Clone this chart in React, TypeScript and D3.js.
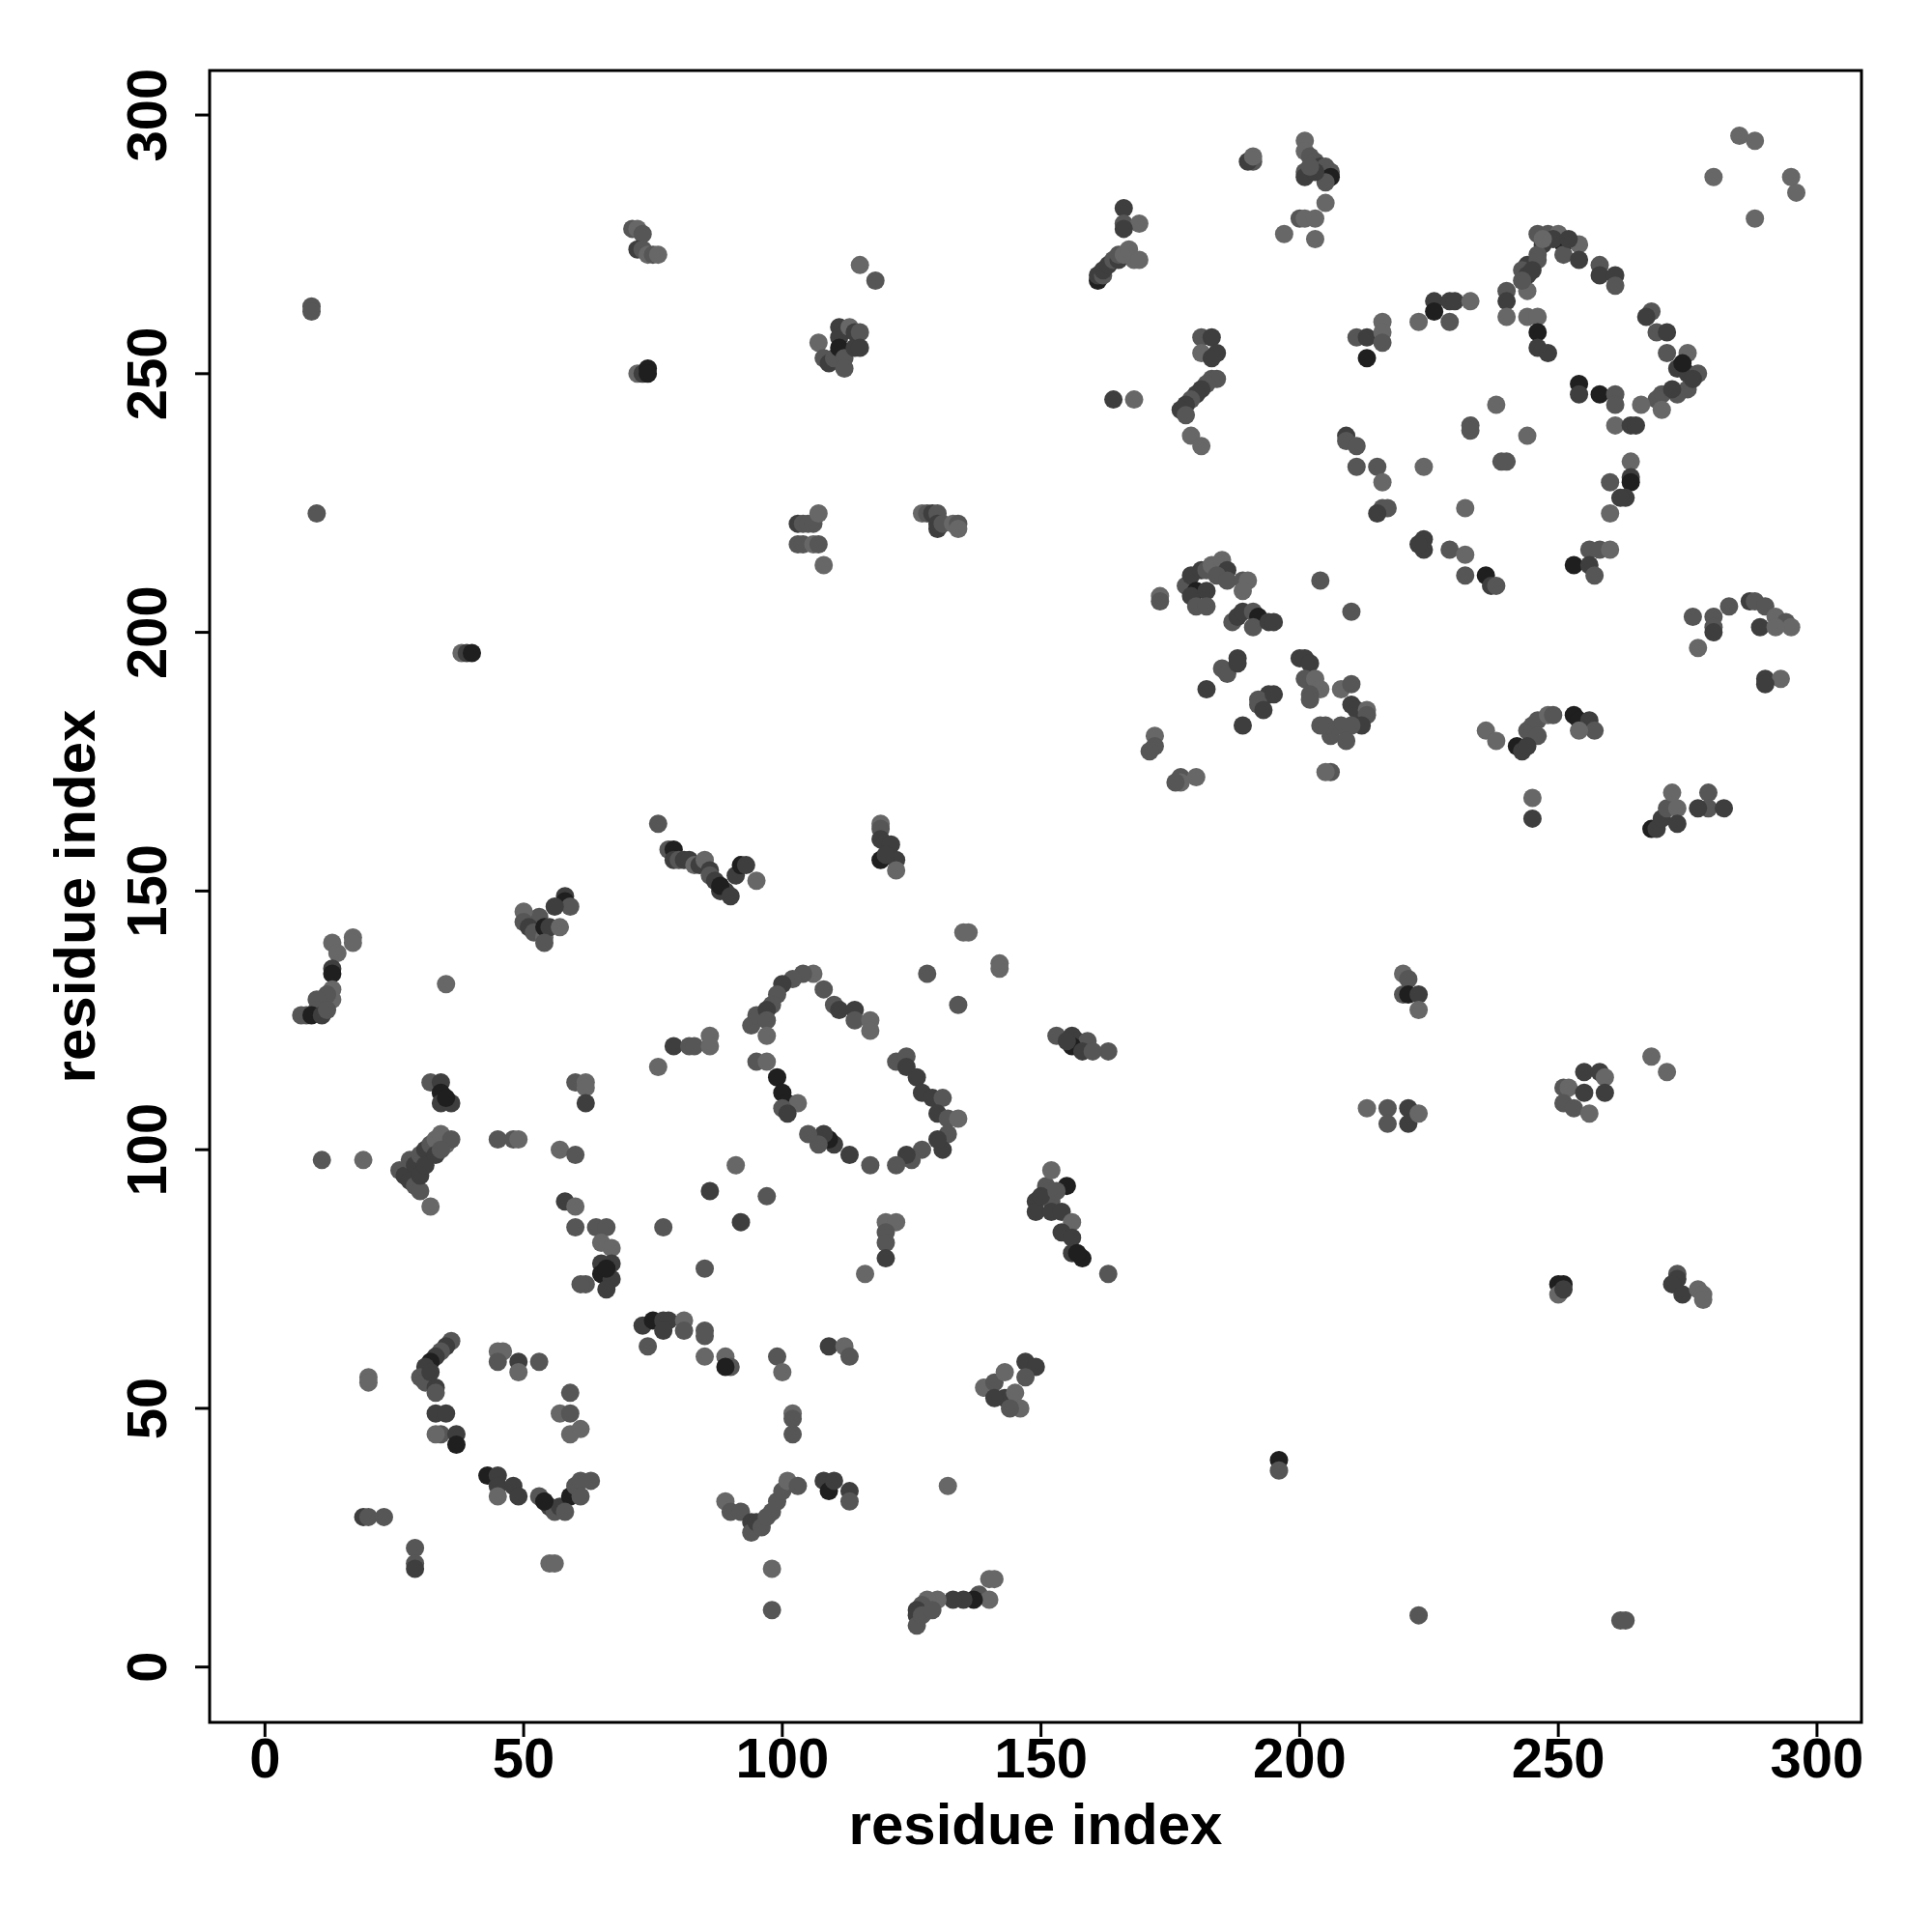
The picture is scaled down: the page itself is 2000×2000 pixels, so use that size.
import React from "react";
import * as d3 from "d3";

// [residue i, residue j, shade level 0..3]
const nTermDomain: number[][] = [
  [9,263,1],[9,262,1],[10,223,1],
  [71,278,1],[72,278,0],[73,277,1],[72,274,2],[73,274,1],[74,273,0],[75,273,1],[76,273,0],
  [72,250,0],[73,250,2],[74,251,3],[74,250,3],
  [38,196,0],[39,196,2],[40,196,3],
  [76,163,1],
  [78,158,1],[79,158,3],[79,156,2],[80,156,1],[81,156,2],[82,156,2],[83,155,0],[84,155,2],[85,156,0],[86,154,2],[86,153,1],[87,152,2],[88,150,2],[89,150,2],[88,151,3],[90,149,2],[91,153,2],[92,155,3],[93,155,2],[95,152,0],
  [58,149,2],[58,148,3],[59,147,1],[56,147,2],[53,145,1],[50,146,0],[50,144,1],[51,143,2],[52,142,1],[54,141,0],[54,143,3],[55,143,2],[57,143,0],[54,140,1],
  [13,140,0],[17,141,0],[17,140,0],[14,138,0],[13,135,2],[13,134,3],[13,131,0],[13,129,0],[12,130,1],[10,129,1],[10,127,1],[8,126,1],[7,126,1],[9,126,3],[11,126,2],[12,127,1],
  [35,132,0],
  [94,124,1],[95,126,1],[95,117,1],
  [79,120,2],[82,120,1],[83,120,1],[86,122,0],[86,120,0],[76,116,0],
  [32,113,1],[34,113,2],[34,111,3],[34,109,2],[36,109,2],[35,110,3],
  [60,113,1],[62,113,0],[62,112,0],[62,109,2],
  [45,102,1],[48,102,1],[49,102,0],
  [57,100,0],[60,99,1],[91,97,0],[11,98,1],[19,98,0],
  [26,96,1],[27,95,2],[28,98,1],[29,97,2],[30,99,1],[31,100,2],[32,101,1],[33,102,0],[34,103,0],[35,101,0],[36,102,1],[28,94,2],[29,93,1],[30,92,1],[32,89,0],[30,95,2],[31,97,2],[33,99,2],[34,100,1],
];

const lowerLeft: number[][] = [
  [58,90,2],[60,89,0],[60,85,1],[64,85,1],[66,85,1],[65,82,0],[67,81,0],[65,78,2],[67,78,2],[65,76,3],[67,75,2],[66,73,2],[62,74,1],[61,74,1],[66,77,3],
  [77,85,1],[86,92,2],[92,86,2],[85,77,1],[97,91,1],
  [73,66,2],[75,67,3],[77,67,2],[78,67,2],[77,65,2],[74,62,1],[81,67,0],[81,65,1],[85,65,1],[85,64,1],[85,60,0],[89,60,0],[90,58,1],[89,58,3],
  [20,56,0],[20,55,0],
  [36,63,1],[35,62,2],[34,61,1],[33,60,2],[32,59,3],[31,58,2],[30,56,1],[31,55,1],[33,54,2],[33,53,1],[33,49,2],[35,49,2],[34,45,1],[37,45,2],[37,43,3],[33,45,0],[32,57,2],
  [45,61,0],[46,61,0],[45,59,1],[49,59,2],[49,57,0],[53,59,1],
  [59,53,1],[57,49,0],[59,49,1],[59,45,0],[61,46,0],
  [43,37,3],[45,37,2],[45,35,2],[45,33,0],[48,35,2],[49,33,2],[53,33,1],[55,31,2],[56,30,1],[57,31,2],[59,33,3],[60,35,1],[61,36,1],[63,36,1],[61,33,1],[58,30,1],[54,32,3],
  [19,29,2],[20,29,1],[23,29,1],
  [29,23,1],[29,20,1],[29,19,2],
  [55,20,0],[56,20,0],
  [89,32,0],[90,30,1],[92,30,1],[94,28,2],[94,26,1],[95,28,2],[96,27,1],[97,29,1],[98,30,1],[99,32,1],[100,34,1],[101,36,0],[103,35,1],
];

const middleRegion: number[][] = [
  [108,36,2],[109,34,3],[113,34,2],[113,32,1],[110,36,2],
  [132,35,0],[98,19,0],[98,11,1],
  [140,17,0],[141,17,0],[138,14,1],[140,13,0],[137,13,3],[135,13,2],[133,13,2],[130,13,0],[128,13,0],[127,12,1],[126,11,2],[126,10,2],[126,8,1],[127,10,1],[129,11,1],
  [120,86,0],[122,86,0],[120,84,1],[120,82,1],[120,79,2],[116,76,0],
  [151,93,1],[155,93,3],[149,90,2],[149,88,2],[152,90,1],[152,88,2],[154,88,2],[156,86,0],[154,84,2],[156,83,2],[156,80,2],[158,79,3],[157,80,3],[163,76,1],[152,96,0],[150,91,2],[153,92,1],
  [99,60,1],[100,57,0],[109,62,2],[112,62,0],[113,60,1],
  [102,49,0],[102,48,1],[102,45,1],
  [139,54,0],[141,55,1],[143,57,0],[143,52,2],[145,53,0],[146,50,0],[144,50,1],[141,52,2],[147,59,2],[149,58,2],[147,56,1],
  [196,40,3],[196,38,1],
  [106,134,0],[104,134,1],[102,133,1],[100,132,2],[99,130,1],[98,128,1],[97,127,2],[97,125,1],[97,122,0],[97,117,0],[99,114,3],[100,111,3],[101,109,3],[103,109,0],[100,108,1],[101,107,2],
  [108,131,1],[110,128,1],[111,127,2],[114,127,2],[114,125,1],[117,125,0],[117,123,0],[122,117,1],[124,118,1],[124,116,2],[126,114,2],[127,111,2],[129,110,2],[131,110,1],[130,107,2],[132,106,1],[134,106,0],[132,103,1],[131,100,2],[130,102,2],[127,100,1],[125,98,1],[124,99,2],[122,97,1],[117,97,1],[113,99,2],[110,101,2],[109,102,3],[108,103,2],[107,101,1],[105,103,1],
  [153,122,1],[156,122,2],[157,121,2],[159,121,1],[163,119,1],[156,120,3],[158,119,2],[155,121,2],[160,119,1],
  [135,142,0],[136,142,0],[142,136,0],[142,135,0],[128,134,1],[134,128,1],
  [119,163,0],[119,162,1],[119,160,2],[121,159,2],[122,156,2],[122,154,0],[119,156,3],[120,157,2],
];

const upperMiddle: number[][] = [
  [103,221,2],[104,221,1],[105,221,1],[106,221,1],[107,223,0],[103,217,1],[104,217,1],[106,217,0],[107,217,1],[108,213,0],
  [127,223,0],[128,223,1],[129,223,2],[130,223,1],[130,221,2],[130,220,2],[131,221,1],[133,221,0],[134,221,1],[134,220,0],
  [115,271,0],[118,268,1],
  [107,256,0],[108,253,1],[109,252,2],[110,253,1],[111,259,2],[111,257,2],[111,255,3],[112,253,1],[112,251,1],[113,259,0],[114,258,2],[114,255,2],[115,258,1],[115,255,2],
  [166,282,2],[166,279,1],[169,279,0],[166,278,2],
  [161,268,3],[161,269,2],[162,269,1],[162,270,2],[163,271,2],[164,272,1],[165,272,2],[165,273,1],[166,273,0],[167,274,0],[168,272,0],[169,272,0],
  [164,245,2],[168,245,0],
  [181,257,1],[183,257,2],[181,254,0],[183,253,2],[184,254,2],[183,249,1],[184,249,1],[182,248,1],[181,247,2],[180,246,2],[179,245,1],[178,244,2],[177,243,2],[178,242,1],[179,238,0],[181,236,0],
  [191,291,1],[190,291,2],[191,292,0],
  [201,295,0],[201,293,0],[202,292,1],[203,291,1],[204,290,2],[205,290,1],[206,289,1],[206,288,3],[205,287,1],[201,289,1],[201,288,2],[203,289,2],[202,290,1],
  [197,277,0],[200,280,1],[201,280,0],[203,280,0],[203,276,0],[205,283,0],
  [173,207,0],[173,206,1],[178,209,1],[179,211,2],[181,212,2],[182,212,1],[183,213,0],[185,214,0],[186,212,2],[184,211,1],[180,208,3],[179,207,2],[182,208,2],[180,205,1],[182,205,1],[186,210,1],[189,210,1],[190,210,0],[189,208,0],
  [187,202,1],[188,203,2],[189,204,2],[191,204,1],[192,203,3],[191,201,1],[194,202,2],[195,202,2],
  [204,210,1],[210,204,1],
  [188,195,2],[185,193,1],[186,192,1],[188,194,2],[182,189,2],
  [194,188,2],[192,187,1],[192,186,1],[193,185,2],[195,188,2],[189,182,2],
  [200,195,2],[201,195,2],[202,194,2],[201,191,1],[203,191,0],[204,189,0],[202,188,1],[202,187,1],
  [208,189,0],[210,190,1],[210,186,2],[211,185,2],[213,185,0],[213,184,1],[212,182,2],[210,182,1],[208,182,1],[206,180,1],[205,182,1],[204,182,1],[209,179,1],
  [172,180,0],[172,178,1],[171,177,1],[177,172,1],[180,172,0],[177,171,0],[176,171,1],
  [206,173,1],[205,173,0],
];

const cTermDomain: number[][] = [
  [280,288,0],[285,296,0],[288,295,0],[295,288,0],[296,285,0],[288,280,0],
  [246,277,1],[247,275,2],[248,277,1],[250,277,0],[251,275,3],[251,273,1],[254,275,0],[254,272,2],[258,271,1],[258,269,2],[261,269,2],[261,267,1],[244,271,2],[243,270,1],[244,269,2],[246,273,1],[246,272,1],[240,266,1],[240,264,2],[240,261,0],[244,266,0],[244,261,0],[246,261,0],[246,258,3],[246,255,2],[248,254,2],
  [268,262,1],[267,261,2],[269,258,1],[271,258,2],[271,254,1],[275,254,0],[273,251,2],[275,250,2],[277,250,1],[275,247,1],[273,246,1],[270,246,1],[269,245,1],[270,243,0],[266,244,0],
  [254,248,3],[254,246,2],[258,246,3],[261,246,1],[261,244,1],[261,240,0],[264,240,2],[265,240,2],
  [249,276,2],[252,276,2],[247,276,0],[245,270,2],[276,249,2],[272,247,2],[274,252,3],[243,268,1],
  [226,264,2],[226,262,3],[229,264,2],[230,264,2],[233,264,0],[223,260,0],[229,260,1],
  [211,257,1],[213,257,2],[216,260,0],[216,258,0],[216,256,1],[213,253,3],
  [238,244,0],[233,240,1],[233,239,1],[244,238,0],
  [209,238,2],[209,237,1],[211,236,1],[211,232,1],[215,232,1],[216,229,0],[224,232,0],
  [216,224,1],[217,224,1],[215,223,2],[232,224,0],
  [239,233,1],[240,233,1],
  [264,233,0],[264,230,2],[264,229,3],[260,229,1],[263,226,2],[262,226,2],[260,223,0],
  [224,218,2],[224,216,2],[223,217,2],[229,216,1],[232,215,0],[232,211,1],[236,211,3],[237,209,2],[238,209,1],
  [253,213,3],[256,216,1],[258,216,1],[260,216,0],[256,213,2],[257,211,1],
  [276,203,1],[280,203,1],[283,205,1],[287,206,2],[288,206,1],[290,205,1],[292,203,0],[294,202,1],[295,201,0],
  [277,197,0],[280,201,1],[280,200,2],[289,201,2],[292,201,0],
  [290,191,2],[293,191,0],[290,190,2],
  [236,181,0],[238,179,0],
  [242,178,3],[243,177,2],[244,181,1],[245,182,1],[246,183,1],[248,184,0],[249,184,1],[246,180,1],[244,178,2],
  [253,184,3],[254,183,3],[256,183,2],[257,181,1],[254,181,0],
  [245,168,0],[245,164,2],
  [268,162,3],[269,162,2],[270,164,2],[271,166,1],[272,169,0],[273,166,0],[273,163,2],[279,169,1],[279,166,1],[282,166,2],[277,166,2],
  [220,134,0],[221,133,1],[220,130,1],[221,130,3],[223,130,2],[223,127,0],
  [213,108,0],[217,108,1],[217,105,1],[221,108,2],[221,105,2],[223,107,0],
  [268,118,0],[271,115,0],
  [251,112,1],[252,112,0],[251,109,1],[253,108,1],[255,115,2],[258,115,2],[259,114,0],[255,111,2],[259,111,2],[256,107,0],
  [250,74,3],[251,74,3],[250,72,0],[251,73,2],
  [273,76,1],[273,75,2],[272,74,2],[274,72,2],[277,73,0],[278,72,0],[278,71,0],
  [223,10,1],[262,9,1],[263,9,1],
];

const xTicks = [0, 50, 100, 150, 200, 250, 300];
const yTicks = [0, 50, 100, 150, 200, 250, 300];
const shadeColors = ["#676767", "#565656", "#3e3e3e", "#1f1f1f"];
const axisTitle = "residue index";

export default function App() {
  const W = 2000, H = 2000;
  const L = 217, R = 1927, T = 73, B = 1783;
  const domain: [number, number] = [-10.7, 308.6];
  const x = d3.scaleLinear().domain(domain).range([L, R]);
  const y = d3.scaleLinear().domain(domain).range([B, T]);
  const points = [...nTermDomain, ...lowerLeft, ...middleRegion, ...upperMiddle, ...cTermDomain];
  const font = "'Liberation Sans', Arial, Helvetica, sans-serif";
  return (
    <svg width={W} height={H} style={{ position: "absolute", left: 0, top: 0, background: "#fff" }}>
      <rect x={0} y={0} width={W} height={H} fill="#fff" />
      {points.map((p, i) => (
        <circle key={i} cx={x(p[0])} cy={y(p[1])} r={9.5} fill={shadeColors[p[2]]} />
      ))}
      <rect x={L} y={T} width={R - L} height={B - T} fill="none" stroke="#000" strokeWidth={3} />
      {xTicks.map((t) => (
        <g key={"x" + t}>
          <line x1={x(t)} x2={x(t)} y1={B} y2={B + 15} stroke="#000" strokeWidth={3} />
          <text x={x(t)} y={1840} textAnchor="middle" fontFamily={font} fontWeight="bold" fontSize={58}>{t}</text>
        </g>
      ))}
      {yTicks.map((t) => (
        <g key={"y" + t}>
          <line x1={L - 15} x2={L} y1={y(t)} y2={y(t)} stroke="#000" strokeWidth={3} />
          <text transform={`translate(172,${y(t)}) rotate(-90)`} textAnchor="middle" fontFamily={font} fontWeight="bold" fontSize={58}>{t}</text>
        </g>
      ))}
      <text x={(L + R) / 2} y={1909} textAnchor="middle" fontFamily={font} fontWeight="bold" fontSize={60}>{axisTitle}</text>
      <text transform={`translate(98,${(T + B) / 2}) rotate(-90)`} textAnchor="middle" fontFamily={font} fontWeight="bold" fontSize={60}>{axisTitle}</text>
    </svg>
  );
}
